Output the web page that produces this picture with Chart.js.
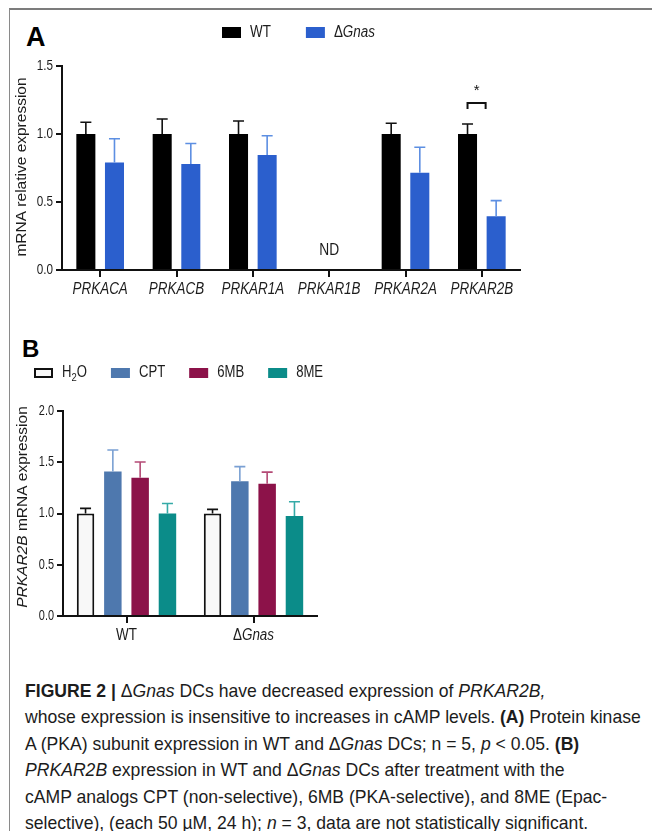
<!DOCTYPE html>
<html><head><meta charset="utf-8">
<script src="https://cdn.jsdelivr.net/npm/chart.js@4.4.1/dist/chart.umd.min.js"></script>
<style>
html,body{margin:0;padding:0;background:#fff;}
body{width:652px;height:831px;position:relative;overflow:hidden;font-family:"Liberation Sans",Arial,sans-serif;}
#frame{position:absolute;left:9px;top:8px;width:700px;height:900px;border-top:2px solid #7c7c7c;border-left:1px solid #8a8a8a;}
canvas{position:absolute;left:0;}
#cA{top:0}
#cB{top:320px}
.panel{position:absolute;font-weight:bold;color:#000;font-family:"Liberation Sans",Arial,sans-serif;line-height:1;}
#caption{position:absolute;left:25px;top:678px;font-size:19px;line-height:26.4px;color:#1c1c1c;white-space:nowrap;transform-origin:0 0;transform:scaleX(0.926);font-family:"Liberation Sans",Arial,sans-serif;}
</style></head>
<body>
<div id="frame"></div>
<div class="panel" style="left:26px;top:24px;font-size:27px;">A</div>
<div class="panel" style="left:22px;top:337px;font-size:24px;">B</div>
<canvas id="cA" width="652" height="310"></canvas>
<canvas id="cB" width="652" height="330"></canvas>
<div id="caption"><b>FIGURE 2 |</b> Δ<i>Gnas</i> DCs have decreased expression of <i>PRKAR2B,</i><br>whose expression is insensitive to increases in cAMP levels. <b>(A)</b> Protein kinase<br>A (PKA) subunit expression in WT and Δ<i>Gnas</i> DCs; n = 5, <i>p</i> &lt; 0.05. <b>(B)</b><br><i>PRKAR2B</i> expression in WT and Δ<i>Gnas</i> DCs after treatment with the<br>cAMP analogs CPT (non-selective), 6MB (PKA-selective), and 8ME (Epac-<br>selective), (each 50 µM, 24 h); <i>n</i> = 3, data are not statistically significant.</div>
<script>
// ---------- DATA ----------
const genesA = ['PRKACA','PRKACB','PRKAR1A','PRKAR1B','PRKAR2A','PRKAR2B'];
const seriesA = ['WT','ΔGnas'];
const seriesRichA = ['WT','Δ<i>Gnas</i>'];
const wtA      = [1.00, 1.00, 1.00, null, 1.00, 1.00];
const wtErrA   = [0.086, 0.110, 0.096, null, 0.079, 0.074];
const gnasA    = [0.79, 0.78, 0.845, null, 0.715, 0.395];
const gnasErrA = [0.175, 0.150, 0.142, null, 0.188, 0.115];
const yTicksA  = [0.0, 0.5, 1.0, 1.5];
const ndLabelA = {gene:'PRKAR1B', text:'ND', y:0.14};
const sigA     = {gene:'PRKAR2B', text:'*', y:1.228};

const groupsB = ['WT','ΔGnas'];
const groupsRichB = ['WT','Δ<i>Gnas</i>'];
const treatB = ['H2O','CPT','6MB','8ME'];
const treatRichB = ['H<sub>2</sub>O','CPT','6MB','8ME'];
const h2oB   = [1.00, 1.00];   const h2oErrB = [0.05, 0.04];
const cptB   = [1.41, 1.315];  const cptErrB = [0.21, 0.142];
const mb6B   = [1.35, 1.29];   const mb6ErrB = [0.153, 0.114];
const me8B   = [1.00, 0.975];  const me8ErrB = [0.098, 0.14];
const yTicksB = [0.0, 0.5, 1.0, 1.5, 2.0];

const RF = '"Liberation Sans", Arial, sans-serif';
const TXT = '#1c1c1c';

// ---------- helpers ----------
function parseRich(str){
  const out=[]; const re=/<(i|sub)>(.*?)<\/\1>/g; let last=0,m;
  while((m=re.exec(str))){ if(m.index>last) out.push({t:str.slice(last,m.index)}); out.push({t:m[2], i:m[1]==='i', sub:m[1]==='sub'}); last=re.lastIndex; }
  if(last<str.length) out.push({t:str.slice(last)});
  return out;
}
function segFont(s,size,italicAll){ const sz=s.sub?size*0.72:size; return ((s.i||italicAll)?'italic ':'')+sz+'px '+RF; }
function richWidth(ctx, str, size, italicAll){
  let w=0; ctx.save(); parseRich(str).forEach(s=>{ ctx.font=segFont(s,size,italicAll); w+=ctx.measureText(s.t).width; }); ctx.restore(); return w;
}
// draws rich text, horizontally condensed by sx
function drawRich(ctx, str, x, y, size, align, color, sx, italicAll){
  sx = sx||1;
  const total=richWidth(ctx,str,size,italicAll)*sx;
  let left = align==='center' ? x-total/2 : (align==='right' ? x-total : x);
  ctx.save(); ctx.translate(left,y); ctx.scale(sx,1);
  ctx.fillStyle=color||TXT; ctx.textBaseline='middle'; ctx.textAlign='left';
  let cx=0;
  parseRich(str).forEach(s=>{ ctx.font=segFont(s,size,italicAll); ctx.fillText(s.t, cx, s.sub? size*0.32 : 0); cx+=ctx.measureText(s.t).width; });
  ctx.restore(); return total;
}

const errorBars = {
  id:'errorBars',
  afterDatasetsDraw(chart){
    const ctx=chart.ctx, ys=chart.scales.y;
    chart.data.datasets.forEach((ds,i)=>{
      const meta=chart.getDatasetMeta(i);
      meta.data.forEach((el,j)=>{
        const v=ds.data[j], e=ds.errors[j];
        if(v==null||e==null) return;
        const x=el.x, y0=ys.getPixelForValue(v), y1=ys.getPixelForValue(v+e);
        ctx.save(); ctx.strokeStyle=ds.errColor; ctx.lineWidth=1.6;
        ctx.beginPath(); ctx.moveTo(x,y0); ctx.lineTo(x,y1); ctx.moveTo(x-5.5,y1); ctx.lineTo(x+5.5,y1); ctx.stroke(); ctx.restore();
      });
    });
  }
};

function legendPlugin(rich, startX, cy, boxW, boxH, gap, itemGap, size, sx){
  return { id:'customLegend', afterDraw(chart){
    const ctx=chart.ctx; let x=startX;
    chart.data.datasets.forEach((ds,i)=>{
      ctx.save();
      ctx.fillStyle=ds.backgroundColor; ctx.fillRect(x, cy-boxH/2, boxW, boxH);
      if(ds.borderWidth>0){ ctx.strokeStyle=ds.borderColor; ctx.lineWidth=2; ctx.strokeRect(x+1, cy-boxH/2+1, boxW-2, boxH-2); }
      ctx.restore();
      x+=boxW+gap;
      const w=drawRich(ctx, rich[i], x, cy, size, 'left', TXT, sx);
      x+=w+itemGap;
    });
  }};
}
function yTitlePlugin(str, cx, cy, size){
  return { id:'yTitle', afterDraw(chart){
    const ctx=chart.ctx; ctx.save(); ctx.translate(cx,cy); ctx.rotate(-Math.PI/2);
    drawRich(ctx, str, 0, 0, size, 'center', TXT, 1); ctx.restore();
  }};
}
function tickLabelsPlugin(yTicks, ySize, ySx, xLabels, xY, xSize, xSx, xItalic){
  return { id:'tickLabels', afterDraw(chart){
    const ctx=chart.ctx, xs=chart.scales.x, ys=chart.scales.y;
    const rx = chart.chartArea.left - 9;
    yTicks.forEach(v=> drawRich(ctx, v.toFixed(1), rx, ys.getPixelForValue(v), ySize, 'right', TXT, ySx));
    xLabels.forEach((g,j)=> drawRich(ctx, g, xs.getPixelForValue(j), xY, xSize, 'center', TXT, xSx, xItalic));
  }};
}
function axisOpts(extra){
  return Object.assign({ z:1,
    grid:{display:true, drawOnChartArea:false, offset:false, drawTicks:true, tickLength:7, color:'#111', lineWidth:2},
    border:{display:true, color:'#111', width:2},
    ticks:{display:false}
  }, extra);
}

// ---------- Chart A ----------
const annotA = { id:'annotA', afterDraw(chart){
  const ctx=chart.ctx, xs=chart.scales.x, ys=chart.scales.y;
  drawRich(ctx, ndLabelA.text, xs.getPixelForValue(genesA.indexOf(ndLabelA.gene)), ys.getPixelForValue(ndLabelA.y), 16, 'center', TXT, 0.86);
  const j=genesA.indexOf(sigA.gene);
  const a=chart.getDatasetMeta(0).data[j], b=chart.getDatasetMeta(1).data[j];
  const xl=a.x, xr=b.x-b.width/2-1, yb=ys.getPixelForValue(sigA.y);
  ctx.save(); ctx.strokeStyle='#111'; ctx.lineWidth=2;
  ctx.beginPath(); ctx.moveTo(xl,yb+6); ctx.lineTo(xl,yb); ctx.lineTo(xr,yb); ctx.lineTo(xr,yb+6); ctx.stroke(); ctx.restore();
  drawRich(ctx, sigA.text, (xl+xr)/2, yb-12, 15, 'center', '#111', 1);
}};

new Chart(document.getElementById('cA'), {
  type:'bar',
  data:{ labels:genesA, datasets:[
    {label:seriesA[0], data:wtA, errors:wtErrA, backgroundColor:'#000000', errColor:'#111111', borderWidth:0},
    {label:seriesA[1], data:gnasA, errors:gnasErrA, backgroundColor:'#2b5fcd', errColor:'#5d8fe2', borderWidth:0}
  ]},
  options:{
    responsive:false, animation:false, devicePixelRatio:1,
    layout:{padding:{left:0,right:132,top:66,bottom:0}},
    datasets:{bar:{categoryPercentage:0.75, barPercentage:0.665}},
    plugins:{legend:{display:false}, tooltip:{enabled:false}},
    scales:{
      x: axisOpts({ afterFit(s){ s.height=40; } }),
      y: axisOpts({ min:0, max:1.5, afterBuildTicks(s){ s.ticks=yTicksA.map(v=>({value:v})); },
          grid:{drawOnChartArea:false, drawTicks:true, tickLength:6, color:'#111', lineWidth:2},
          afterFit(s){ s.width=62; } })
    }
  },
  plugins:[errorBars, annotA, tickLabelsPlugin(yTicksA, 15, 0.78, genesA, 290, 16, 0.84, true),
           legendPlugin(seriesRichA, 222, 32.5, 19, 11, 9, 35, 16, 0.84), yTitlePlugin('mRNA relative expression', 22, 167, 15.5)]
});

// ---------- Chart B ----------
new Chart(document.getElementById('cB'), {
  type:'bar',
  data:{ labels:groupsB, datasets:[
    {label:treatB[0], data:h2oB, errors:h2oErrB, backgroundColor:'#f8f8f8', borderColor:'#111', borderWidth:2, borderSkipped:'bottom', errColor:'#111'},
    {label:treatB[1], data:cptB, errors:cptErrB, backgroundColor:'#4e78ae', errColor:'#7aa0d3', borderWidth:0},
    {label:treatB[2], data:mb6B, errors:mb6ErrB, backgroundColor:'#8c1249', errColor:'#b44a75', borderWidth:0},
    {label:treatB[3], data:me8B, errors:me8ErrB, backgroundColor:'#0b8c89', errColor:'#35aaa7', borderWidth:0}
  ]},
  options:{
    responsive:false, animation:false, devicePixelRatio:1,
    layout:{padding:{left:0,right:335,top:91,bottom:0}},
    datasets:{bar:{categoryPercentage:0.86, barPercentage:0.64}},
    plugins:{legend:{display:false}, tooltip:{enabled:false}},
    scales:{
      x: axisOpts({ afterFit(s){ s.height=34; } }),
      y: axisOpts({ min:0, max:2.0, afterBuildTicks(s){ s.ticks=yTicksB.map(v=>({value:v})); },
          grid:{drawOnChartArea:false, drawTicks:true, tickLength:6, color:'#111', lineWidth:2},
          afterFit(s){ s.width=63; } })
    }
  },
  plugins:[errorBars, tickLabelsPlugin(yTicksB, 14, 0.78, groupsRichB, 316, 16, 0.84, false),
           legendPlugin(treatRichB, 34, 53, 19, 10, 9, 24, 16, 0.82), yTitlePlugin('<i>PRKAR2B</i> mRNA expression', 23, 187, 15.5)]
});
</script>
</body></html>
